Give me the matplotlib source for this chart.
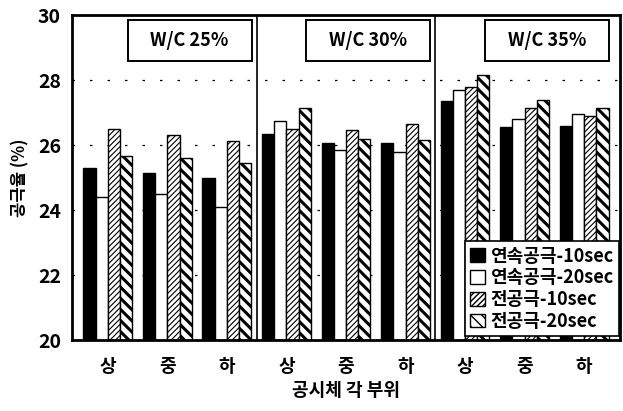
import matplotlib
matplotlib.use("Agg")
from matplotlib import pyplot as plt
from matplotlib.patches import Rectangle
import numpy as np

plt.rcParams['font.family'] = ['Noto Sans CJK KR', 'DejaVu Sans']
plt.rcParams['font.weight'] = 'bold'
plt.rcParams['hatch.linewidth'] = 1.0

panels = ["W/C 25%", "W/C 30%", "W/C 35%"]
parts = ["상", "중", "하"]
series = ["연속공극-10sec", "연속공극-20sec", "전공극-10sec", "전공극-20sec"]

# values per series, 9 groups (3 W/C x 상/중/하)
cont_10 = [25.3, 25.15, 25.0, 26.35, 26.05, 26.05, 27.35, 26.55, 26.6]
cont_20 = [24.4, 24.5, 24.1, 26.75, 25.85, 25.8, 27.7, 26.8, 26.95]
total_10 = [26.5, 26.3, 26.12, 26.5, 26.45, 26.65, 27.8, 27.15, 26.9]
total_20 = [25.65, 25.6, 25.45, 27.15, 26.2, 26.15, 28.15, 27.38, 27.15]

fig = plt.figure(figsize=(6.23, 4.11), dpi=100)
ax = fig.add_axes([0.1156, 0.1727, 0.8794, 0.7908])

x = np.arange(9)
w = 0.205
styles = [dict(color='black', edgecolor='black'),
          dict(color='white', edgecolor='black'),
          dict(color='white', edgecolor='black', hatch='//////'),
          dict(color='white', edgecolor='black', hatch='\\\\\\')]
hatch_lw = [None, None, 0.8, 2.2]
for i, (vals, st) in enumerate(zip([cont_10, cont_20, total_10, total_20], styles)):
    bars = ax.bar(x + (i - 1.5) * w, np.array(vals) - 20, w, bottom=20, linewidth=1.0,
                  label=series[i], **st)
    if hatch_lw[i] is not None:
        for b in bars:
            if hasattr(b, 'set_hatch_linewidth'):
                b.set_hatch_linewidth(hatch_lw[i])

ax.set_ylim(20, 30)
ax.set_xlim(-0.6, 8.6)
ax.set_yticks([20, 22, 24, 26, 28, 30])
ax.set_xticks(x)
ax.set_xticklabels(parts * 3, fontsize=13, fontweight='bold')
ax.tick_params(axis='y', labelsize=14, length=0, pad=8)
ax.tick_params(axis='x', length=0, pad=12)
for y in [22, 24, 26, 28]:
    ax.axhline(y, color='black', linestyle=(0, (2, 12)), linewidth=0.9, zorder=0)
for xv in [2.5, 5.5]:
    ax.axvline(xv, color='black', linewidth=1.2)
for s in ax.spines.values():
    s.set_linewidth(2)

# title boxes in each panel
for k, name in enumerate(panels):
    right = 3 * k + 2.415
    ax.add_patch(Rectangle((right - 2.08, 28.58), 2.08, 1.27, facecolor='white',
                           edgecolor='black', linewidth=1.4, zorder=3))
    ax.text(right - 1.04, 29.22, name, ha='center', va='center', fontsize=13,
            fontweight='bold', zorder=4)

ax.set_xlabel("공시체 각 부위", fontsize=13, fontweight='bold', labelpad=4)
ax.set_ylabel("공극율 (%)", fontsize=12, fontweight='bold', labelpad=6)

leg = ax.legend(loc='lower right', bbox_to_anchor=(0.998, 0.012), fontsize=13,
                frameon=True, fancybox=False, edgecolor='black', handlelength=0.8,
                handleheight=0.8, handletextpad=0.3, labelspacing=0.15, borderpad=0.3,
                borderaxespad=0)
leg.get_frame().set_linewidth(1.2)
leg.get_frame().set_alpha(1)

fig.savefig("out.png", dpi=100)
plt.close(fig)
